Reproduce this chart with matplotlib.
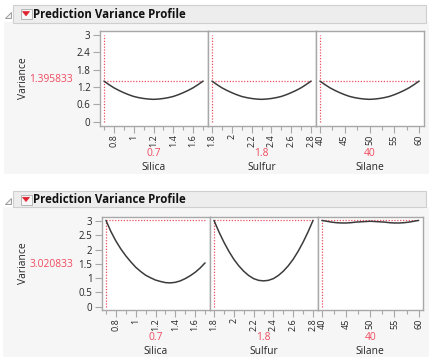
import matplotlib
matplotlib.use("Agg")
import matplotlib.pyplot as plt
from matplotlib.patches import Rectangle, Polygon
from matplotlib.ticker import FixedLocator

# ---------------- data ----------------
factors = ["Silica", "Sulfur", "Silane"]
current = [0.7, 1.8, 40]
current_labels = ["0.7", "1.8", "40"]

silica_x = [0.7, 0.75, 0.8, 0.85, 0.9, 0.95, 1.0, 1.05, 1.1, 1.15, 1.2,
            1.25, 1.3, 1.35, 1.4, 1.45, 1.5, 1.55, 1.6, 1.65, 1.7]
sulfur_x = [1.8, 1.85, 1.9, 1.95, 2.0, 2.05, 2.1, 2.15, 2.2, 2.25, 2.3,
            2.35, 2.4, 2.45, 2.5, 2.55, 2.6, 2.65, 2.7, 2.75, 2.8]
silane_x = [40, 41, 42, 43, 44, 45, 46, 47, 48, 49, 50,
            51, 52, 53, 54, 55, 56, 57, 58, 59, 60]

top_value = 1.395833
top_value_label = "1.395833"
top_silica = [1.40, 1.28, 1.17, 1.08, 1.00, 0.93, 0.87, 0.83, 0.80, 0.78, 0.77,
              0.78, 0.80, 0.83, 0.87, 0.93, 1.00, 1.08, 1.17, 1.28, 1.40]
top_sulfur = [1.40, 1.28, 1.17, 1.08, 1.00, 0.93, 0.87, 0.83, 0.80, 0.78, 0.77,
              0.78, 0.80, 0.83, 0.87, 0.93, 1.00, 1.08, 1.17, 1.28, 1.40]
top_silane = [1.40, 1.28, 1.17, 1.08, 1.00, 0.93, 0.87, 0.83, 0.80, 0.78, 0.77,
              0.78, 0.80, 0.83, 0.87, 0.93, 1.00, 1.08, 1.17, 1.28, 1.40]

bot_value = 3.020833
bot_value_label = "3.020833"
bot_silica = [3.02, 2.63, 2.30, 2.02, 1.78, 1.57, 1.38, 1.23, 1.10, 1.01, 0.93,
              0.88, 0.84, 0.83, 0.85, 0.90, 0.98, 1.08, 1.20, 1.35, 1.53]
bot_sulfur = [3.02, 2.62, 2.26, 1.94, 1.66, 1.43, 1.24, 1.09, 0.98, 0.92, 0.90,
              0.92, 0.98, 1.09, 1.24, 1.43, 1.66, 1.94, 2.26, 2.62, 3.02]
bot_silane = [3.02, 2.99, 2.96, 2.94, 2.93, 2.93, 2.94, 2.96, 2.97, 2.98, 2.99,
              2.98, 2.97, 2.96, 2.94, 2.93, 2.93, 2.94, 2.96, 2.99, 3.02]

x_ranges = [(0.7, 1.7), (1.8, 2.8), (40, 60)]
x_major = [[0.8, 1.0, 1.2, 1.4, 1.6],
           [1.8, 2.0, 2.2, 2.4, 2.6, 2.8],
           [40, 45, 50, 55, 60]]
x_major_labels = [["0.8", "1", "1.2", "1.4", "1.6"],
                  ["1.8", "2", "2.2", "2.4", "2.6", "2.8"],
                  ["40", "45", "50", "55", "60"]]
x_minor = [[0.7, 0.9, 1.1, 1.3, 1.5, 1.7],
           [1.9, 2.1, 2.3, 2.5, 2.7],
           [42.5, 47.5, 52.5, 57.5]]

top_yticks = [0, 0.6, 1.2, 1.8, 2.4, 3]
top_ylabels = ["0", "0.6", "1.2", "1.8", "2.4", "3"]
bot_yticks = [0, 0.5, 1, 1.5, 2, 2.5, 3]
bot_ylabels = ["0", "0.5", "1", "1.5", "2", "2.5", "3"]

title = "Prediction Variance Profile"
ylabel = "Variance"

# ---------------- style ----------------
W, H = 433, 360
FONT = "Open Sans"
RED = "#ee4b5f"
TXT = "#262626"
FRAME = "#a8a8a8"
CURVE = "#3c3c3c"
plt.rcParams["font.family"] = [FONT, "DejaVu Sans"]

fig = plt.figure(figsize=(W / 100, H / 100), dpi=100)
fig.patch.set_facecolor("white")


def frac_rect(x0, y0, x1, y1):
    return [x0 / W, 1 - y1 / H, (x1 - x0) / W, (y1 - y0) / H]


def fig_rect(x0, y0, x1, y1, zorder=-5, **kw):
    r = Rectangle((x0 / W, 1 - y1 / H), (x1 - x0) / W, (y1 - y0) / H,
                  transform=fig.transFigure, zorder=zorder, **kw)
    fig.add_artist(r)


def fig_poly(pts, zorder=-4, **kw):
    p = Polygon([(x / W, 1 - y / H) for x, y in pts], closed=True,
                transform=fig.transFigure, zorder=zorder, **kw)
    fig.add_artist(p)


def fig_text(x, y, s, **kw):
    fig.text(x / W, 1 - y / H, s, **kw)


def header(y0, y1):
    fig_rect(13, y0, 426, y1, facecolor="#ededed", edgecolor="#cfcfcf", lw=0.8)
    yc = (y0 + y1) / 2
    # disclosure triangle
    fig_poly([(5, yc + 4), (11, yc + 4), (11, yc - 2)], facecolor="#f4f4f4",
             edgecolor="#9a9a9a", lw=0.7)
    # red button
    fig_rect(20.5, yc - 5, 31.5, yc + 5, zorder=-4, facecolor="#f7f7f7",
             edgecolor="#b5b5b5", lw=0.7)
    fig_poly([(22.5, yc - 2.2), (29.5, yc - 2.2), (26, yc + 2)], zorder=-3,
             facecolor="#e0202e", edgecolor="#e0202e", lw=0.5)
    fig_text(33, yc + 0.3, title, fontsize=8.3, fontweight="bold", color="#111111",
             ha="left", va="center")


def section(ytop, ybot, panel_x, value, value_label, yticks, ylabels, ylim,
            curves, val_y, name_y):
    for i in range(3):
        ax = fig.add_axes(frac_rect(panel_x[i], ytop, panel_x[i + 1], ybot))
        lo, hi = x_ranges[i]
        pad = 0.045 * (hi - lo)
        ax.set_xlim(lo - pad, hi + pad)
        ax.set_ylim(*ylim)
        xs = [silica_x, sulfur_x, silane_x][i]
        ax.plot(xs, curves[i], color=CURVE, lw=1.1, solid_capstyle="round",
                solid_joinstyle="round", zorder=3)
        ax.plot([lo, hi], [value, value], color=RED, lw=0.9, ls=(0, (1, 1.3)), zorder=2)
        ax.plot([current[i], current[i]], [0, max(3.0, value)], color=RED, lw=0.9,
                ls=(0, (1, 1.3)), zorder=2)
        ax.xaxis.set_major_locator(FixedLocator(x_major[i]))
        ax.set_xticklabels(x_major_labels[i], rotation=90, fontsize=6.5, color=TXT)
        ax.xaxis.set_minor_locator(FixedLocator(x_minor[i]))
        ax.tick_params(axis="x", which="major", length=5, width=0.8, color=FRAME, pad=1)
        ax.tick_params(axis="x", which="minor", length=3, width=0.8, color=FRAME)
        if i == 0:
            ax.yaxis.set_major_locator(FixedLocator(yticks))
            ax.set_yticklabels(ylabels, fontsize=7.0, color=TXT)
            ax.tick_params(axis="y", length=5, width=0.8, color=FRAME, pad=1.5)
        else:
            ax.set_yticks([])
        for s in ax.spines.values():
            s.set_color(FRAME)
            s.set_linewidth(1.0)
        ax.set_facecolor("white")
        xc = (panel_x[i] + panel_x[i + 1]) / 2
        fig_text(xc, val_y, current_labels[i], fontsize=7.4, color=RED,
                 ha="center", va="center")
        fig_text(xc, name_y, factors[i], fontsize=7.4, color=TXT,
                 ha="center", va="center")
    yc = (ytop + ybot) / 2
    fig_text(23, yc, ylabel, fontsize=7.4, color=TXT, rotation=90,
             ha="center", va="center")
    fig_text(73, yc + 1, value_label, fontsize=7.4, color=RED, ha="right", va="center")


# backgrounds of the two reports
fig_rect(4, 22, 428.5, 174, zorder=-10, facecolor="#f6f6f6", edgecolor="none")
fig_rect(3, 207, 428.5, 357, zorder=-10, facecolor="#f6f6f6", edgecolor="none")

header(5, 22.5)
header(191.5, 207.5)

section(31, 126, [99.5, 207.5, 315.5, 423.5], top_value, top_value_label,
        top_yticks, top_ylabels, (-0.15, 3.13),
        [top_silica, top_sulfur, top_silane], 154, 167.5)
section(216.7, 310, [101.5, 209.5, 317.5, 423], bot_value, bot_value_label,
        bot_yticks, bot_ylabels, (-0.12, 3.15),
        [bot_silica, bot_sulfur, bot_silane], 338, 352)

fig.savefig("out.png", dpi=100, facecolor="white")
